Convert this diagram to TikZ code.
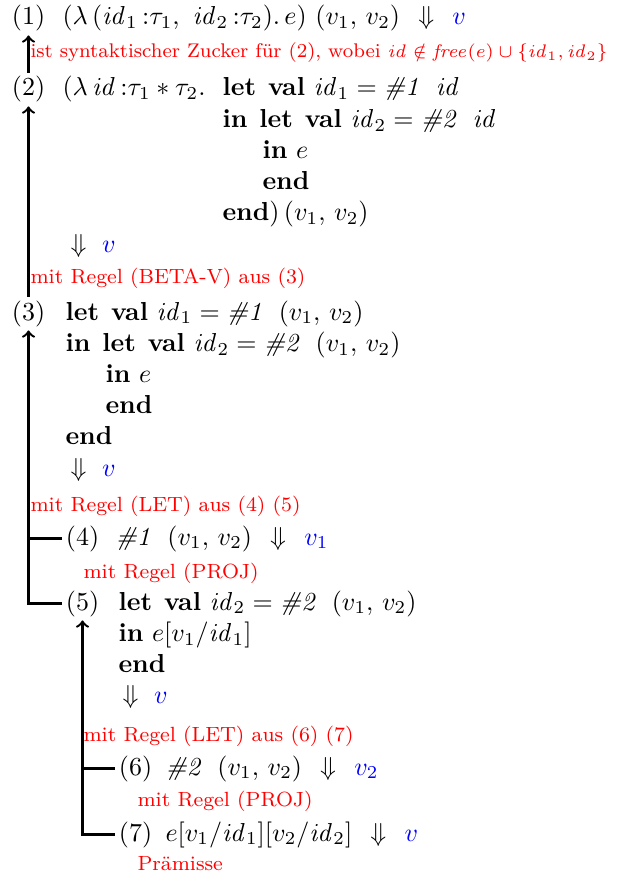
\documentclass[tikz,border=0pt]{standalone}
\begin{document}
\begin{tikzpicture}[x=0.3846pt,y=-0.3846pt,
  lbl/.style={inner sep=0pt,outer sep=1.5pt,anchor=base west},
  txt/.style={inner sep=0pt,anchor=base west},
  note/.style={inner sep=0pt,anchor=base west,text=red,font=\fontsize{7.9}{9}\selectfont},
  conn/.style={->,line width=0.9pt},
  branch/.style={line width=0.9pt}]
\useasboundingbox (0,0) rectangle (617,877);
\newcommand{\kw}[1]{\textbf{#1}}
\newcommand{\lv}{\kw{let}\hspace{4.6pt}\kw{val}}
\newcommand{\myid}{\mathit{id}}
\newcommand{\colo}{\,{:}}
\newcommand{\ev}[1]{\hspace{7pt}$\Downarrow$\hspace{7pt}\textcolor{blue}{$#1$}}
\newcommand{\evl}[1]{$\Downarrow$\hspace{6pt}\textcolor{blue}{$#1$}}
% (1)
\node[lbl] (n1) at (8,25) {(1)};
\node[txt] (t1) at (62,25) {$(\lambda\,(\myid_1\colo\tau_1,\ \myid_2\colo\tau_2).\,e)\ (v_1,\,v_2)$\ev{v}};
\node[note,font=\fontsize{7.6}{9}\selectfont] (r1) at (30,58) {ist syntaktischer Zucker für (2), wobei {\fontsize{7.0}{8}\selectfont$\myid\notin\mathit{free}(e)\cup\{\myid_1,\myid_2\}$}};
% (2)
\node[lbl] (n2) at (8,96) {(2)};
\node[txt] (t2a) at (62,96) {$(\lambda\,\myid\colo\tau_1*\tau_2.$};
\node[txt] (t2b) at (222,96) {\lv\ $\myid_1 = \textit{\#1}$\ \ $\myid$};
\node[txt] (t2c) at (222,127.2) {\kw{in}\hspace{4.6pt}\lv\ $\myid_2 = \textit{\#2}$\ \ $\myid$};
\node[txt] (t2d) at (262,158.4) {\kw{in} $e$};
\node[txt] (t2e) at (262,189.6) {\kw{end}};
\node[txt] (t2f) at (222,220.8) {\kw{end}$)\,(v_1,\,v_2)$};
\node[txt] (t2g) at (70,252) {\evl{v}};
\node[note] (r2) at (30,283) {mit Regel (BETA-V) aus (3)};
% (3)
\node[lbl] (n3) at (8,320) {(3)};
\node[txt] (t3a) at (65,320) {\lv\ $\myid_1 = \textit{\#1}$\ \ $(v_1,\,v_2)$};
\node[txt] (t3b) at (65,351.2) {\kw{in}\hspace{4.6pt}\lv\ $\myid_2 = \textit{\#2}$\ \ $(v_1,\,v_2)$};
\node[txt] (t3c) at (105,382.4) {\kw{in} $e$};
\node[txt] (t3d) at (105,413.6) {\kw{end}};
\node[txt] (t3e) at (65,444.8) {\kw{end}};
\node[txt] (t3f) at (70,476) {\evl{v}};
\node[note] (r3) at (30,511) {mit Regel (LET) aus (4) (5)};
% (4)
\node[lbl] (n4) at (62,545) {(4)};
\node[txt] (t4) at (115,545) {$\textit{\#1}$\ \ $(v_1,\,v_2)$\ev{v_1}};
\node[note] (r4) at (83,578) {mit Regel (PROJ)};
% (5)
\node[lbl] (n5) at (62,610) {(5)};
\node[txt] (t5a) at (118,610) {\lv\ $\myid_2 = \textit{\#2}$\ \ $(v_1,\,v_2)$};
\node[txt] (t5b) at (118,641.2) {\kw{in} $e[v_1/\myid_1]$};
\node[txt] (t5c) at (118,672.4) {\kw{end}};
\node[txt] (t5d) at (122,703.6) {\evl{v}};
\node[note] (r5) at (83,741) {mit Regel (LET) aus (6) (7)};
% (6)
\node[lbl] (n6) at (115,775) {(6)};
\node[txt] (t6) at (165,775) {$\textit{\#2}$\ \ $(v_1,\,v_2)$\ev{v_2}};
\node[note] (r6) at (137,806) {mit Regel (PROJ)};
% (7)
\node[lbl] (n7) at (115,841) {(7)};
\node[txt] (t7) at (165,841) {$e[v_1/\myid_1][v_2/\myid_2]$\ev{v}};
\node[note] (r7) at (137,870) {Prämisse};
% connectors
\draw[conn] (n2.north) -- (n1.south);
\draw[conn] (n3.north) -- (n2.south);
\draw[conn] (n5.west) -| (n3.south);
\draw[branch] (n4.west) -- (n4.west -| n3.south);
\draw[conn] (n7.west) -| (n5.south);
\draw[branch] (n6.west) -- (n6.west -| n5.south);
\end{tikzpicture}
\end{document}
